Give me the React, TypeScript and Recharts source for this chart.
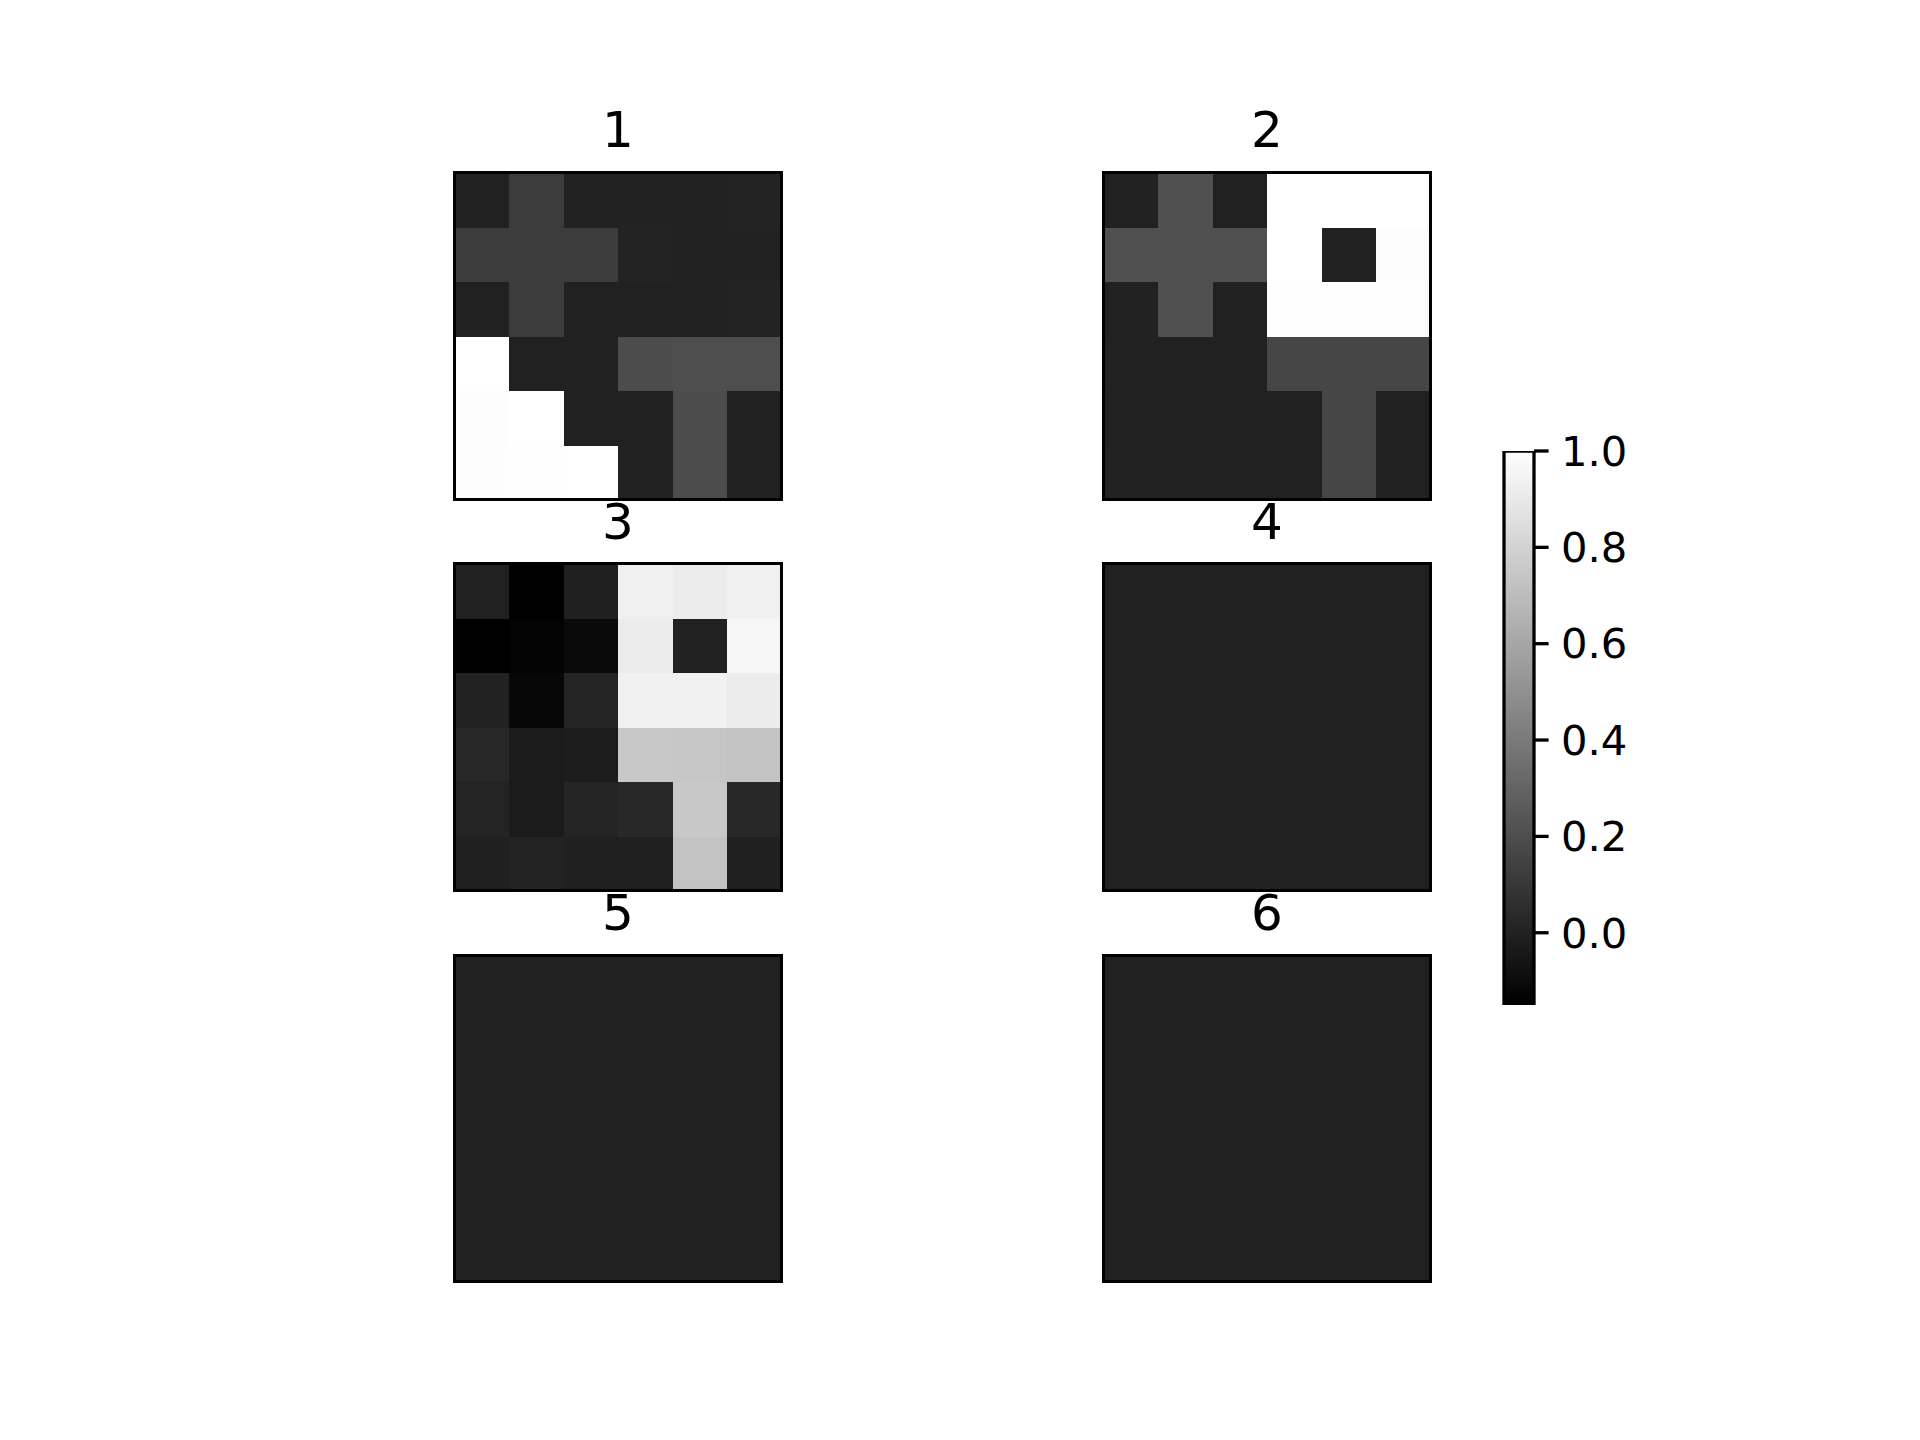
import { BarChart, Bar, XAxis, YAxis, Cell } from 'recharts';

// colour limits of the shared gray colormap
const VMIN = -0.15;
const VMAX = 1.0;

const COLS = [0, 1, 2, 3, 4, 5];
const ROWS = [0, 1, 2, 3, 4, 5]; // 0 = top row

const panel1 = [
  [0.0, 0.121, 0.0, 0.003, 0.003, 0.008],
  [0.121, 0.121, 0.121, 0.008, 0.0, 0.003],
  [0.0, 0.121, 0.0, 0.0, 0.0, 0.008],
  [1.0, 0.0, 0.0, 0.193, 0.2, 0.2],
  [0.99, 1.0, 0.0, 0.0, 0.193, 0.0],
  [0.99, 0.995, 1.0, 0.0, 0.193, 0.0],
];

const panel2 = [
  [0.0, 0.211, 0.0, 1.0, 1.0, 1.0],
  [0.211, 0.211, 0.211, 1.0, 0.0, 0.99],
  [0.0, 0.211, 0.0, 0.995, 0.995, 0.995],
  [0.003, 0.0, 0.0, 0.166, 0.166, 0.166],
  [0.0, 0.0, 0.0, 0.0, 0.166, 0.0],
  [0.003, 0.0, 0.0, 0.0, 0.166, 0.0],
];

const panel3 = [
  [0.0, -0.15, -0.006, 0.932, 0.914, 0.932],
  [-0.15, -0.136, -0.105, 0.914, 0.0, 0.959],
  [0.003, -0.118, 0.017, 0.936, 0.936, 0.914],
  [0.026, -0.028, -0.019, 0.752, 0.743, 0.729],
  [0.012, -0.028, 0.012, 0.03, 0.752, 0.03],
  [-0.006, 0.008, -0.006, -0.006, 0.729, -0.006],
];

const zeros = [
  [0, 0, 0, 0, 0, 0],
  [0, 0, 0, 0, 0, 0],
  [0, 0, 0, 0, 0, 0],
  [0, 0, 0, 0, 0, 0],
  [0, 0, 0, 0, 0, 0],
  [0, 0, 0, 0, 0, 0],
];

const panelTitles = ['1', '2', '3', '4', '5', '6'];
const panelGrids = [panel1, panel2, panel3, zeros, zeros, zeros];

const cbTicks = [0.0, 0.2, 0.4, 0.6, 0.8, 1.0];
const cbData = [{ name: 'cb', range: [VMIN, VMAX] }];

const FONT = '"DejaVu Sans", sans-serif';
const SIZE = 326.3;
const colLeft = [454.8, 1103.8];
const rowTop = [172.8, 564.1, 955.4];

function gray(v: number) {
  let t = (v - VMIN) / (VMAX - VMIN);
  t = Math.max(0, Math.min(1, t));
  const g = Math.round(t * 255).toString(16).padStart(2, '0');
  return `#${g}${g}${g}`;
}

// cell rect, nudged a touch wider/taller so neighbouring cells don't leave hairline seams
function CellRect(props: any) {
  const { x, y, width, height, fill } = props;
  return (
    <rect
      x={x}
      y={y}
      width={width + 1}
      height={height + 0.6}
      fill={fill}
      shapeRendering="crispEdges"
    />
  );
}

function Panel({ title, grid, left, top }: { title: string; grid: number[][]; left: number; top: number }) {
  // every cell is one unit tall; rows are stacked bottom-up
  const data = COLS.map((c) => {
    const d: Record<string, number> = { col: c };
    ROWS.forEach((r) => { d[`r${r}`] = 1; });
    return d;
  });
  const stackOrder = [...ROWS].reverse();

  return (
    <>
      <div
        style={{
          position: 'absolute',
          left: left - 100,
          width: SIZE + 200,
          top: top - 25 - 46.4,
          textAlign: 'center',
          fontFamily: FONT,
          fontSize: 50,
          color: '#000',
          whiteSpace: 'nowrap',
        }}
      >
        {title}
      </div>
      <div style={{ position: 'absolute', left, top }}>
        <BarChart
          width={SIZE}
          height={SIZE}
          data={data}
          margin={{ top: 0, right: 0, bottom: 0, left: 0 }}
          barCategoryGap={0}
          barGap={0}
        >
          <XAxis dataKey="col" type="category" hide />
          <YAxis type="number" domain={[0, 6]} hide allowDataOverflow />
          {stackOrder.map((r) => (
            <Bar key={r} dataKey={`r${r}`} stackId="g" isAnimationActive={false} shape={CellRect}>
              {COLS.map((c, ci) => (
                <Cell key={c} fill={gray(grid[r][ci])} />
              ))}
            </Bar>
          ))}
        </BarChart>
      </div>
      <div
        style={{
          position: 'absolute',
          left: left - 1.65,
          top: top - 1.65,
          width: SIZE + 3.3,
          height: SIZE + 3.3,
          border: '3.3px solid #000',
          boxSizing: 'border-box',
          pointerEvents: 'none',
        }}
      />
    </>
  );
}

function Colorbar() {
  return (
    <div style={{ position: 'absolute', left: 1500, top: 427 }}>
      <BarChart
        width={154}
        height={602}
        data={cbData}
        margin={{ top: 24, right: 0, bottom: 24, left: 4 }}
        barCategoryGap={0}
      >
        <defs>
          <linearGradient id="cbGrad" x1="0" y1="0" x2="0" y2="1">
            <stop offset="0%" stopColor="#ffffff" />
            <stop offset="100%" stopColor="#000000" />
          </linearGradient>
        </defs>
        <XAxis dataKey="name" type="category" hide />
        <YAxis
          type="number"
          orientation="right"
          domain={[VMIN, VMAX]}
          allowDataOverflow
          ticks={cbTicks}
          interval={0}
          tickFormatter={(v: number) => v.toFixed(1)}
          axisLine={false}
          tickLine={{ stroke: '#000', strokeWidth: 3.3 }}
          tickSize={14.6}
          tickMargin={12.5}
          width={120}
          tick={{ fontSize: 41.7, fill: '#000', fontFamily: FONT }}
        />
        <Bar dataKey="range" fill="url(#cbGrad)" stroke="#000" strokeWidth={3.3} isAnimationActive={false} />
      </BarChart>
    </div>
  );
}

export default function App() {
  return (
    <div style={{ position: 'absolute', left: 0, top: 0, width: 1920, height: 1440, background: '#fff' }}>
      {panelGrids.map((g, i) => (
        <Panel
          key={i}
          title={panelTitles[i]}
          grid={g}
          left={colLeft[i % 2]}
          top={rowTop[Math.floor(i / 2)]}
        />
      ))}
      <Colorbar />
    </div>
  );
}
